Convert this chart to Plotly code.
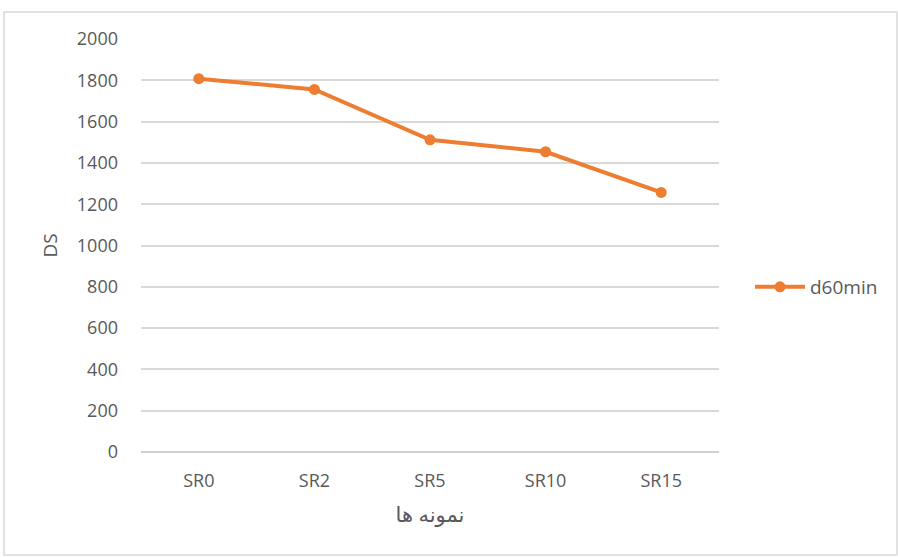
import plotly.graph_objects as go

categories = ["SR0", "SR2", "SR5", "SR10", "SR15"]
d60min = [1808, 1756, 1512, 1454, 1257]
y_ticks = [0, 200, 400, 600, 800, 1000, 1200, 1400, 1600, 1800, 2000]

L, R, T, B = 141, 179, 39, 105
W, H = 898, 557
pw, ph = W - L - R, H - T - B

def px_x(px):
    return (px - L) / pw

def px_y(py):
    return (H - B - py) / ph

fig = go.Figure()
fig.add_trace(go.Scatter(
    x=categories, y=d60min, mode="lines+markers", name="d60min",
    line=dict(color="#ED7D31", width=4),
    marker=dict(color="#ED7D31", size=11),
))

fig.update_layout(
    width=W, height=H,
    margin=dict(l=L, r=R, t=T, b=B),
    paper_bgcolor="white", plot_bgcolor="white",
    font=dict(family="Open Sans, Liberation Sans, sans-serif", size=18, color="#595959"),
    showlegend=True,
    legend=dict(x=px_x(750), y=px_y(287), xanchor="left", yanchor="middle",
                itemwidth=50,
                font=dict(size=19, color="#595959"), bgcolor="rgba(0,0,0,0)"),
    xaxis=dict(type="category", range=[-0.5, 4.5], showgrid=False, showline=False, zeroline=False,
               ticks="", ticklabelstandoff=16,
               title=dict(text="نمونه ها", font=dict(family="Noto Sans, DejaVu Sans, sans-serif", size=21, color="#595959"), standoff=16)),
    yaxis=dict(range=[0, 2000], tickvals=y_ticks, showgrid=True, gridcolor="#D9D9D9", gridwidth=1.5,
               zeroline=True, zerolinecolor="#D0D0D0", zerolinewidth=1.5, showline=False,
               ticks="", ticklabelstandoff=22,
               title=dict(text="DS", font=dict(size=19, color="#595959"), standoff=14)),
    shapes=[dict(type="rect", xref="paper", yref="paper",
                 x0=px_x(4), x1=px_x(897), y0=px_y(555), y1=px_y(12),
                 line=dict(color="#D9D9D9", width=1.5), layer="below")],
)

fig.write_html("out.html", config={"displayModeBar": False},
               post_script="document.body.style.margin='0';")
